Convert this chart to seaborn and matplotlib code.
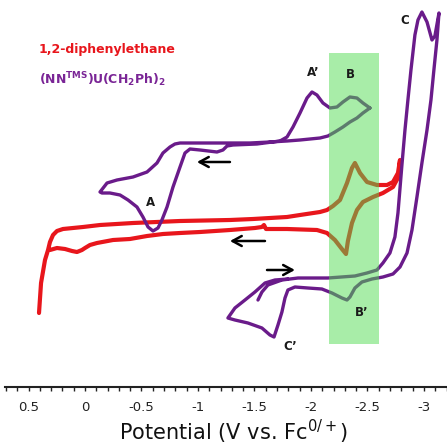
import matplotlib
matplotlib.use("Agg")
import matplotlib.pyplot as plt
from matplotlib.patches import Rectangle
from matplotlib.ticker import MultipleLocator
import pandas as pd
import seaborn as sns

# ---------------- data (potential in V vs Fc, current in arbitrary units) ----------------
red_v = [0.310, 0.248, 0.177, 0.115, 0.071, 0.027, 0.0, -0.044, -0.106, -0.248, -0.398, -0.549,
         -0.690, -0.841, -1.018, -1.283, -1.504, -1.566, -1.584, -1.602, -1.788, -2.053, -2.142,
         -2.212, -2.274, -2.310, -2.327, -2.363, -2.407, -2.460, -2.549, -2.637, -2.726, -2.779,
         -2.788,
         -2.770, -2.726, -2.673, -2.584, -2.496, -2.434, -2.389, -2.363, -2.319, -2.257, -2.195,
         -2.142, -2.080, -1.903, -1.788, -1.487, -1.283, -0.841, -0.425, -0.133, 0.018, 0.195,
         0.248, 0.283, 0.310, 0.327, 0.354, 0.389, 0.407]
red_i = [5.0, 5.2, 5.1, 4.9, 4.8, 5.0, 5.2, 5.5, 5.7, 6.0, 6.1, 6.4,
         6.6, 6.7, 6.8, 7.0, 7.2, 7.3, 7.5, 7.1, 7.1, 7.0, 6.7,
         6.0, 5.1, 4.6, 5.9, 7.7, 9.0, 9.8, 10.3, 10.7, 11.3, 12.4,
         14.0,
         12.7, 11.8, 11.5, 11.5, 11.8, 12.7, 13.7, 13.2, 11.7, 10.0, 9.4,
         9.0, 8.8, 8.5, 8.3, 8.1, 8.0, 7.9, 7.7, 7.5, 7.3, 7.1,
         6.9, 6.5, 5.8, 5.0, 4.0, 1.7, -1.3]

# upper purple scan (waves A, A', B)
pu_upper_v = [-2.522, -2.460, -2.407, -2.345, -2.283, -2.212, -2.150, -2.080, -1.903, -1.788,
              -1.637, -1.460, -1.283, -1.018, -0.841, -0.796, -0.752, -0.690, -0.637, -0.549,
              -0.425, -0.283, -0.195, -0.133, -0.150, -0.221, -0.310, -0.381, -0.460, -0.513,
              -0.558, -0.602, -0.646, -0.681, -0.726, -0.779, -0.841, -0.885, -0.929, -1.018,
              -1.168, -1.221, -1.257, -1.310, -1.522, -1.726, -1.788, -1.841, -1.903, -1.965,
              -2.009, -2.053, -2.106, -2.168, -2.230, -2.283, -2.345, -2.407, -2.460, -2.522]
pu_upper_i = [19.2, 18.7, 18.2, 17.8, 17.3, 16.8, 16.4, 16.2, 16.0, 15.9,
              15.8, 15.7, 15.7, 15.7, 15.7, 15.6, 15.3, 14.7, 13.7, 12.8,
              12.3, 12.0, 11.7, 10.8, 10.7, 10.7, 10.5, 10.0, 9.3, 8.3,
              7.3, 6.9, 7.2, 8.0, 9.3, 11.3, 13.3, 14.7, 15.1, 15.0,
              14.8, 15.0, 15.4, 15.5, 15.6, 15.9, 16.3, 17.3, 18.7, 20.2,
              20.8, 20.5, 19.7, 19.2, 19.3, 19.8, 20.3, 20.2, 19.7, 19.2]

# lower purple scan (waves B', C, C')
pu_lower_v = [-1.531, -1.566, -1.619, -1.743, -1.885, -2.150, -2.389, -2.496, -2.584, -2.637,
              -2.699, -2.743, -2.770, -2.805, -2.832, -2.858, -2.885, -2.920, -2.947, -2.982,
              -3.027, -3.071, -3.097, -3.133, -3.115, -3.088, -3.062, -3.027, -2.982, -2.938,
              -2.894, -2.850, -2.788, -2.726, -2.637, -2.540, -2.451, -2.389, -2.345, -2.319,
              -2.274, -2.186, -2.097, -1.973, -1.858, -1.796, -1.770, -1.743, -1.708, -1.673,
              -1.637, -1.566, -1.442, -1.327, -1.265, -1.327, -1.416, -1.504, -1.593, -1.681,
              -1.796]
pu_lower_i = [0.0, 0.8, 1.5, 2.0, 2.2, 2.2, 2.4, 2.7, 3.0, 3.7,
              4.7, 6.3, 8.7, 13.5, 17.0, 20.0, 23.0, 26.5, 28.0, 28.8,
              27.8, 26.0, 26.4, 28.7, 26.0, 23.0, 20.0, 17.0, 13.7, 10.3,
              7.0, 4.7, 3.3, 2.6, 2.3, 2.1, 1.8, 1.2, 0.3, 0.0,
              0.2, 0.7, 1.1, 1.2, 1.3, 1.0, 0.2, -1.2, -2.5, -3.7,
              -3.5, -2.8, -2.3, -2.0, -1.8, -0.8, 0.0, 0.8, 1.7, 2.0,
              2.1]

band_v = [-2.159, -2.602]
band_i = [-4.4, 24.7]

tick_values = [0.5, 0, -0.5, -1, -1.5, -2, -2.5, -3]
tick_labels = ["0.5", "0", "-0.5", "-1", "-1.5", "-2", "-2.5", "-3"]

peak_names = ["A", "A\u2019", "B", "B\u2019", "C", "C\u2019"]
peak_v = [-0.584, -2.018, -2.345, -2.451, -2.832, -1.814]
peak_i = [9.7, 22.7, 22.5, -1.3, 27.9, -4.6]

arrow_from_v = [-1.283, -1.593, -1.611]
arrow_to_v = [-0.991, -1.283, -1.858]
arrow_i = [13.8, 5.9, 3.0]

legend_names = ["1,2-diphenylethane",
                r"(NN$^{\mathbf{TMS}}$)U(CH$_{\mathbf{2}}$Ph)$_{\mathbf{2}}$"]
legend_v = 0.407
legend_i = [25.0, 22.0]

RED = "#E8161C"
PURPLE = "#6A1B8A"

# ---------------- plot ----------------
sns.set_theme(style="white")
plt.rcParams["font.family"] = ["DejaVu Sans"]
plt.rcParams["mathtext.fontset"] = "dejavusans"

fig = plt.figure(figsize=(4.47, 4.45), dpi=100)
ax = fig.add_axes([5 / 447, 58 / 445, 442 / 447, 387 / 445])

red_df = pd.DataFrame({"E": red_v, "I": red_i})
up_df = pd.DataFrame({"E": pu_upper_v, "I": pu_upper_i})
lo_df = pd.DataFrame({"E": pu_lower_v, "I": pu_lower_i})

line_kw = dict(sort=False, estimator=None, ax=ax, legend=False)
sns.lineplot(data=red_df, x="E", y="I", color=RED, lw=3.0,
             solid_joinstyle="round", solid_capstyle="round", zorder=3, **line_kw)
sns.lineplot(data=up_df, x="E", y="I", color=PURPLE, lw=2.4,
             solid_joinstyle="round", solid_capstyle="round", zorder=4, **line_kw)
sns.lineplot(data=lo_df, x="E", y="I", color=PURPLE, lw=2.4,
             solid_joinstyle="round", solid_capstyle="round", zorder=4, **line_kw)

ax.add_patch(Rectangle((band_v[1], band_i[0]), band_v[0] - band_v[1], band_i[1] - band_i[0],
                       facecolor="#52DC52", edgecolor="none", alpha=0.5, zorder=5))

for name, v, i in zip(peak_names, peak_v, peak_i):
    ax.text(v, i, name, ha="center", va="center", fontsize=8.5, fontweight="bold",
            color="#1a1a1a", zorder=6)

for v0, v1, i in zip(arrow_from_v, arrow_to_v, arrow_i):
    ax.annotate("", xy=(v1, i), xytext=(v0, i),
                arrowprops=dict(arrowstyle="->,head_length=0.55,head_width=0.3",
                                color="black", lw=1.8, shrinkA=0, shrinkB=0),
                zorder=6)

ax.text(legend_v, legend_i[0], legend_names[0], color=RED, fontsize=9, fontweight="bold",
        ha="left", va="center")
ax.text(legend_v, legend_i[1], legend_names[1], color="#7A2596", fontsize=9,
        fontweight="bold", ha="left", va="center")

ax.set_xlim(0.708, -3.204)
ax.set_ylim(-8.7, 30.0)
ax.set_yticks([])
ax.set_ylabel("")
for s in ["left", "right", "top"]:
    ax.spines[s].set_visible(False)
ax.spines["bottom"].set_linewidth(1.5)
ax.spines["bottom"].set_color("#222222")

ax.set_xticks(tick_values, labels=tick_labels)
ax.xaxis.set_minor_locator(MultipleLocator(0.1))
ax.tick_params(axis="x", which="both", direction="out", length=3, width=1,
               color="#222222", bottom=True)
ax.tick_params(axis="x", which="major", labelsize=9.5, labelcolor="#222222", pad=7)

ax.set_xlabel("Potential (V vs. Fc$^{0/+}$)", fontsize=15, color="#111111")
ax.xaxis.label.set_va("baseline")
ax.xaxis.set_label_coords(0.518, -(440 - 387) / 387)

fig.savefig("out.png", dpi=100)
